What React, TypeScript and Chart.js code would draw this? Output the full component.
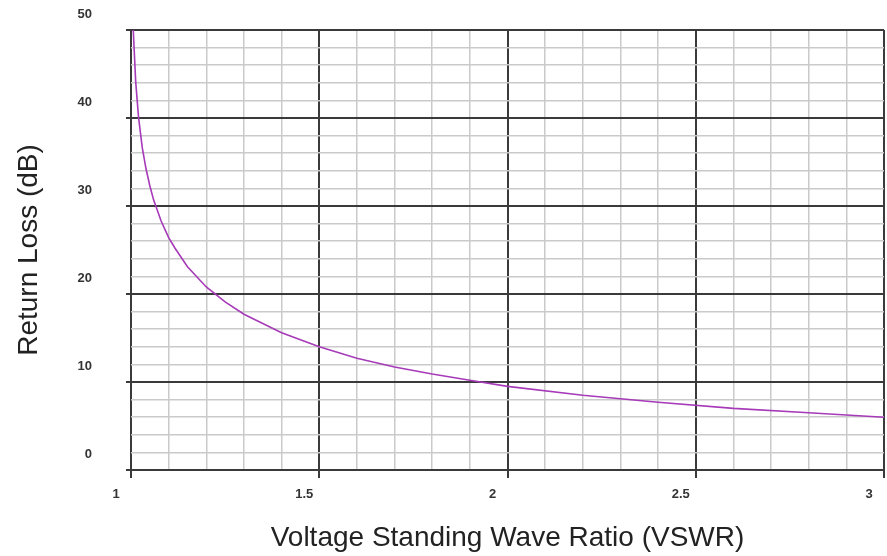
import React, { useEffect, useRef } from "react";
import { Chart, registerables } from "chart.js";

Chart.register(...registerables);

// VSWR (x) readings and matching return loss (dB) readings taken off the curve
const vswr = [
  1.006, 1.0125, 1.02, 1.03, 1.04, 1.05, 1.06, 1.08, 1.1, 1.117, 1.15, 1.2,
  1.25, 1.3, 1.4, 1.5, 1.6, 1.7, 1.8, 1.9, 2.0, 2.2, 2.4, 2.6, 2.8, 3.0,
];
const returnLoss = [
  50.0, 44.1, 40.1, 36.6, 34.2, 32.3, 30.7, 28.3, 26.4, 25.2, 23.1, 20.8,
  19.1, 17.7, 15.6, 14.0, 12.7, 11.7, 10.9, 10.2, 9.5, 8.5, 7.7, 7.0, 6.5, 6.0,
];

const xMajorTicks = [1, 1.5, 2, 2.5, 3];
const yMajorTicks = [0, 10, 20, 30, 40, 50];
const xTitle = "Voltage Standing Wave Ratio (VSWR)";
const yTitle = "Return Loss (dB)";

const MAJOR = "#3a3a3a";
const MINOR = "#cacaca";
const FONT = "'Liberation Sans', Arial, sans-serif";

const isMajor = (list: number[], v: number) =>
  list.some((m) => Math.abs(m - v) < 1e-6);

export default function App() {
  const ref = useRef<HTMLCanvasElement>(null);

  useEffect(() => {
    const canvas = ref.current;
    if (!canvas) return;
    const chart = new Chart(canvas, {
      type: "line",
      data: {
        datasets: [
          {
            data: vswr.map((x, i) => ({ x, y: returnLoss[i] })),
            borderColor: "#a63ab8",
            borderWidth: 1.6,
            pointRadius: 0,
            tension: 0,
            fill: false,
          },
        ],
      },
      options: {
        responsive: false,
        animation: false,
        layout: { padding: { top: 30, right: 3, left: 0, bottom: 0 } },
        plugins: {
          legend: { display: false },
          tooltip: { enabled: false },
        },
        scales: {
          x: {
            type: "linear",
            min: 1,
            max: 3,
            afterFit: (s: any) => {
              s.height = 86;
              s.paddingLeft = 0;
              s.paddingRight = 0;
            },
            border: { display: false },
            grid: {
              color: (c: any) => (isMajor(xMajorTicks, c.tick?.value) ? MAJOR : MINOR),
              lineWidth: (c: any) => (isMajor(xMajorTicks, c.tick?.value) ? 2 : 1.5),
              tickColor: (c: any) =>
                isMajor(xMajorTicks, c.tick?.value) ? MAJOR : "rgba(0,0,0,0)",
              tickLength: 8,
              tickWidth: 2,
            },
            ticks: {
              stepSize: 0.1,
              autoSkip: false,
              maxRotation: 0,
              minRotation: 0,
              labelOffset: -15,
              padding: 9,
              color: "#333",
              font: { family: FONT, size: 13, weight: "bold" },
              callback: (v: any) =>
                isMajor(xMajorTicks, Number(v)) ? String(Math.round(Number(v) * 10) / 10) : "",
            },
            title: {
              display: true,
              text: xTitle,
              color: "#222",
              font: { family: FONT, size: 28 },
              padding: { top: 0, bottom: 1 },
            },
          },
          y: {
            type: "linear",
            min: 0,
            max: 50,
            afterFit: (s: any) => {
              s.width = 131;
              s.paddingTop = 0;
              s.paddingBottom = 0;
            },
            border: { display: false },
            grid: {
              color: (c: any) => (isMajor(yMajorTicks, c.tick?.value) ? MAJOR : MINOR),
              lineWidth: (c: any) => (isMajor(yMajorTicks, c.tick?.value) ? 2 : 1.5),
              tickColor: (c: any) =>
                isMajor(yMajorTicks, c.tick?.value) ? MAJOR : "rgba(0,0,0,0)",
              tickLength: 5,
              tickWidth: 2,
            },
            ticks: {
              stepSize: 2,
              autoSkip: false,
              labelOffset: -16,
              padding: 34,
              color: "#333",
              font: { family: FONT, size: 13, weight: "bold" },
              callback: (v: any) => (isMajor(yMajorTicks, Number(v)) ? String(v) : ""),
            },
            title: {
              display: true,
              text: yTitle,
              color: "#222",
              font: { family: FONT, size: 28 },
              padding: { top: 12, bottom: 0 },
            },
          },
        },
      },
    });
    return () => chart.destroy();
  }, []);

  return (
    <div
      style={{
        position: "fixed",
        left: 0,
        top: 0,
        width: 887,
        height: 556,
        background: "#fff",
      }}
    >
      <canvas ref={ref} width={887} height={556} style={{ display: "block" }} />
    </div>
  );
}
